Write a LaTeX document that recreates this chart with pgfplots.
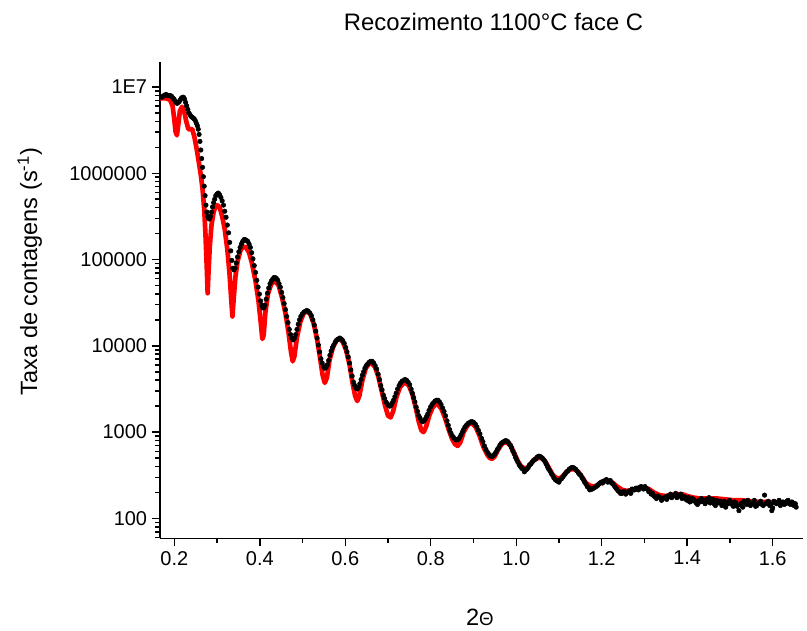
\documentclass[border=0pt]{standalone}
\usepackage{fontspec}
\setmainfont{Liberation Sans}
\usepackage{pgfplots}
\pgfplotsset{compat=1.18}
\begin{document}
\begin{tikzpicture}
\begin{axis}[
  scale only axis, width=483pt, height=357.75pt,
  xmin=0.166, xmax=1.671, ymin=58.7, ymax=1.95e7, ymode=log,
  axis lines=left, axis line style={-, line width=1.3pt},
  tick align=outside, major tick length=6pt, minor tick length=3.5pt,
  every tick/.style={black, line width=1.1pt},
  xtick={0.2,0.4,0.6,0.8,1.0,1.2,1.4,1.6},
  minor xtick={0.3,0.5,0.7,0.9,1.1,1.3,1.5},
  xticklabel={\pgfmathprintnumber[fixed,fixed zerofill,precision=1,assume math mode=true]{\tick}},
  ytick={100,1000,10000,100000,1000000,10000000},
  yticklabels={100,1000,10000,100000,1000000,1E7},
  minor ytick={60,70,80,90,200,300,400,500,600,700,800,900,2000,3000,4000,5000,6000,7000,8000,9000,20000,30000,40000,50000,60000,70000,80000,90000,200000,300000,400000,500000,600000,700000,800000,900000,2000000,3000000,4000000,5000000,6000000,7000000,8000000,9000000},
  tick label style={font=\fontsize{15}{18}\selectfont},
  title={Recozimento 1100°C face C},
  title style={at={(0.519,1)}, anchor=center, yshift=24pt, font=\fontsize{17.9}{21}\selectfont},
  ylabel={Taxa de contagens (s\textsuperscript{-1})},
  ylabel style={at={(axis description cs:-0.2022,0.56)}, anchor=center, font=\fontsize{17.7}{21}\selectfont},
  xlabel={2{\fontsize{14}{17}\selectfont Θ}},
  xlabel style={at={(axis description cs:0.4977,0)}, anchor=center, yshift=-59pt, font=\fontsize{17.7}{21}\selectfont},
]
\coordinate (BBsw) at (rel axis cs:-0.2484,-0.1929);
\coordinate (BBne) at (rel axis cs:1.0062,1.1300);
\addplot[only marks, mark=*, mark size=1.7pt, black] coordinates {
(0.170,7.59e6) (0.176,7.94e6) (0.182,8.13e6) (0.188,7.94e6) (0.194,7.76e6) (0.199,7.24e6)
(0.204,6.61e6) (0.209,6.61e6) (0.214,7.08e6) (0.219,7.59e6) (0.224,7.24e6) (0.229,6.03e6)
(0.234,5.01e6) (0.239,4.57e6) (0.244,4.37e6) (0.249,4.07e6) (0.254,3.55e6) (0.258,2.82e6)
(0.262,1.86e6) (0.266,1.17e6) (0.270,7.08e5) (0.274,4.27e5) (0.278,3.16e5) (0.282,2.95e5)
(0.287,3.55e5) (0.292,4.57e5) (0.297,5.50e5) (0.303,5.89e5) (0.309,5.25e5) (0.315,4.27e5)
(0.321,3.09e5) (0.327,2.04e5) (0.332,1.26e5) (0.337,7.94e4) (0.342,7.94e4) (0.348,1.07e5)
(0.354,1.38e5) (0.360,1.62e5) (0.366,1.70e5) (0.372,1.62e5) (0.378,1.38e5) (0.384,1.02e5)
(0.390,7.08e4) (0.396,4.79e4) (0.402,3.31e4) (0.407,2.75e4) (0.412,2.95e4) (0.418,4.07e4)
(0.424,5.25e4) (0.430,5.89e4) (0.436,6.17e4) (0.442,5.75e4) (0.448,4.79e4) (0.454,3.63e4)
(0.460,2.63e4) (0.466,1.86e4) (0.472,1.35e4) (0.478,1.17e4) (0.484,1.35e4) (0.490,1.78e4)
(0.496,2.19e4) (0.503,2.45e4) (0.510,2.57e4) (0.517,2.40e4) (0.524,2.00e4) (0.531,1.48e4)
(0.537,1.02e4) (0.543,7.08e3) (0.549,5.75e3) (0.555,5.62e3) (0.561,6.76e3) (0.567,8.71e3)
(0.573,1.02e4) (0.580,1.17e4) (0.587,1.23e4) (0.594,1.15e4) (0.601,9.55e3) (0.607,7.41e3)
(0.613,5.25e3) (0.619,3.80e3) (0.625,3.24e3) (0.631,3.31e3) (0.637,4.07e3) (0.643,5.01e3)
(0.649,5.89e3) (0.656,6.46e3) (0.663,6.61e3) (0.670,5.89e3) (0.677,4.68e3) (0.683,3.47e3)
(0.689,2.69e3) (0.695,2.24e3) (0.701,2.04e3) (0.707,2.04e3) (0.713,2.34e3) (0.719,2.82e3)
(0.726,3.47e3) (0.733,3.89e3) (0.740,4.07e3) (0.747,3.80e3) (0.754,3.16e3) (0.760,2.51e3)
(0.766,1.95e3) (0.772,1.55e3) (0.778,1.35e3) (0.784,1.35e3) (0.790,1.51e3) (0.796,1.78e3)
(0.803,2.09e3) (0.810,2.29e3) (0.817,2.34e3) (0.824,2.09e3) (0.831,1.74e3) (0.838,1.35e3)
(0.844,1070) (0.850,912) (0.856,832) (0.862,813) (0.868,871) (0.874,1000) (0.880,1148)
(0.887,1259) (0.894,1318) (0.901,1288) (0.908,1148) (0.915,955) (0.922,776) (0.929,631)
(0.935,562) (0.941,525) (0.947,537) (0.953,589) (0.959,661) (0.965,741) (0.971,776)
(0.977,794) (0.983,741) (0.989,661) (0.995,562) (1.001,479) (1.007,417) (1.013,380)
(1.019,347) (1.025,372) (1.031,417) (1.037,447) (1.043,479) (1.049,513) (1.055,525)
(1.061,501) (1.067,457) (1.073,398) (1.079,355) (1.085,316) (1.091,282) (1.097,269)
(1.103,282) (1.109,302) (1.115,331) (1.121,355) (1.127,380) (1.133,389) (1.139,372)
(1.145,339) (1.151,316) (1.157,282) (1.163,251) (1.169,229) (1.175,219) (1.181,224)
(1.187,234) (1.193,251) (1.199,263) (1.205,269) (1.211,282) (1.217,269) (1.223,257)
(1.229,240) (1.235,219) (1.241,204) (1.247,195) (1.253,204) (1.259,200) (1.265,209)
(1.271,219) (1.277,214) (1.283,224) (1.289,229) (1.295,224) (1.301,234) (1.307,219)
(1.313,204) (1.319,195) (1.325,178) (1.331,182) (1.337,174) (1.343,170) (1.349,178)
(1.355,182) (1.361,191) (1.367,182) (1.373,195) (1.379,186) (1.385,191) (1.391,178)
(1.397,166) (1.403,174) (1.409,158) (1.415,166) (1.421,151) (1.427,162) (1.433,170)
(1.439,155) (1.445,166) (1.451,174) (1.457,158) (1.463,148) (1.469,162) (1.475,155)
(1.481,141) (1.487,158) (1.493,151) (1.499,162) (1.505,145) (1.511,155) (1.517,138)
(1.521,123) (1.527,151) (1.533,158) (1.539,145) (1.545,155) (1.551,148) (1.557,162)
(1.563,141) (1.569,151) (1.575,145) (1.581,186) (1.587,155) (1.593,141) (1.598,123)
(1.603,158) (1.609,148) (1.615,162) (1.621,151) (1.627,145) (1.633,158) (1.639,148)
(1.645,155) (1.650,141) (1.655,135)
};
\addplot[only marks, mark=*, mark size=1.7pt, black] coordinates {
(0.173,7.76e6) (0.179,8.13e6) (0.185,7.94e6) (0.191,7.94e6) (0.197,7.41e6) (0.2015,6.92e6)
(0.2065,6.46e6) (0.2115,6.76e6) (0.2165,7.41e6) (0.2215,7.59e6) (0.2265,6.61e6) (0.2315,5.50e6)
(0.2365,4.79e6) (0.2415,4.47e6) (0.2465,4.27e6) (0.2515,3.80e6) (0.256,3.24e6) (0.260,2.34e6)
(0.264,1.48e6) (0.268,9.12e5) (0.272,5.50e5) (0.276,3.55e5) (0.280,3.02e5) (0.2845,3.16e5)
(0.2895,4.07e5) (0.2945,5.01e5) (0.300,5.75e5) (0.306,5.62e5) (0.312,4.79e5) (0.318,3.63e5)
(0.324,2.51e5) (0.3295,1.58e5) (0.3345,9.77e4) (0.3395,7.59e4) (0.345,9.12e4) (0.351,1.23e5)
(0.357,1.51e5) (0.363,1.70e5) (0.369,1.66e5) (0.375,1.51e5) (0.381,1.20e5) (0.387,8.51e4)
(0.393,5.75e4) (0.399,3.98e4) (0.4045,2.95e4) (0.4095,2.75e4) (0.415,3.47e4) (0.421,4.68e4)
(0.427,5.62e4) (0.433,6.17e4) (0.439,6.03e4) (0.445,5.25e4) (0.451,4.17e4) (0.457,3.09e4)
(0.463,2.19e4) (0.469,1.55e4) (0.475,1.23e4) (0.481,1.23e4) (0.487,1.55e4) (0.493,2.00e4)
(0.4995,2.34e4) (0.5065,2.51e4) (0.5135,2.51e4) (0.5205,2.24e4) (0.5275,1.74e4) (0.534,1.23e4)
(0.540,8.51e3) (0.546,6.31e3) (0.552,5.50e3) (0.558,6.03e3) (0.564,7.76e3) (0.570,9.55e3)
(0.5765,1.10e4) (0.5835,1.20e4) (0.5905,1.20e4) (0.5975,1.07e4) (0.604,8.51e3) (0.610,6.31e3)
(0.616,4.47e3) (0.622,3.47e3) (0.628,3.16e3) (0.634,3.63e3) (0.640,4.57e3) (0.646,5.50e3)
(0.6525,6.17e3) (0.6595,6.61e3) (0.6665,6.31e3) (0.6735,5.37e3) (0.680,4.07e3) (0.686,3.09e3)
(0.692,2.45e3) (0.698,2.14e3) (0.704,2.00e3) (0.710,2.19e3) (0.716,2.57e3) (0.7225,3.16e3)
(0.7295,3.72e3) (0.7365,3.98e3) (0.7435,3.98e3) (0.7505,3.55e3) (0.757,2.82e3) (0.763,2.24e3)
(0.769,1.74e3) (0.775,1.45e3) (0.781,1.32e3) (0.787,1.41e3) (0.793,1.62e3) (0.7995,1.95e3)
(0.8065,2.19e3) (0.8135,2.34e3) (0.8205,2.24e3) (0.8275,1.91e3) (0.8345,1.55e3) (0.841,1.20e3)
(0.847,977) (0.853,871) (0.859,813) (0.865,832) (0.871,933) (0.877,1072) (0.8835,1202)
(0.8905,1288) (0.8975,1318) (0.9045,1230) (0.9115,1047) (0.9185,851) (0.9255,692) (0.932,589)
(0.938,537) (0.944,525) (0.950,562) (0.956,631) (0.962,708) (0.968,759) (0.974,794)
(0.980,776) (0.986,708) (0.992,603) (0.998,513) (1.004,447) (1.010,398) (1.016,372)
(1.022,363) (1.028,389) (1.034,427) (1.040,468) (1.046,490) (1.052,525) (1.058,513)
(1.064,479) (1.070,427) (1.076,372) (1.082,331) (1.088,295) (1.094,275) (1.100,263)
(1.106,288) (1.112,316) (1.118,347) (1.124,372) (1.130,389) (1.136,380) (1.142,355)
(1.148,324) (1.154,295) (1.160,263) (1.166,234) (1.172,214) (1.178,219) (1.184,229)
(1.190,240) (1.196,257) (1.202,257) (1.208,275) (1.214,263) (1.220,275) (1.226,251)
(1.232,229) (1.238,209) (1.244,195) (1.250,204) (1.256,191) (1.262,204) (1.268,195)
(1.274,214) (1.280,224) (1.286,214) (1.292,234) (1.298,219) (1.304,224) (1.310,204)
(1.316,191) (1.322,182) (1.328,170) (1.334,178) (1.340,162) (1.346,174) (1.352,166)
(1.358,178) (1.364,174) (1.370,186) (1.376,174) (1.382,182) (1.388,170) (1.394,178)
(1.400,162) (1.406,155) (1.412,170) (1.418,158) (1.424,145) (1.430,155) (1.436,162)
(1.442,148) (1.448,158) (1.454,151) (1.460,166) (1.466,141) (1.472,151) (1.478,158)
(1.484,148) (1.490,135) (1.496,148) (1.502,155) (1.508,138) (1.514,151) (1.524,145)
(1.530,135) (1.536,151) (1.542,162) (1.548,141) (1.554,151) (1.560,138) (1.566,148)
(1.572,158) (1.578,141) (1.584,148) (1.590,158) (1.596,145) (1.600,132) (1.606,151)
(1.612,155) (1.618,141) (1.624,155) (1.630,148) (1.636,162) (1.642,145) (1.648,151)
(1.653,148)
};
\addplot[red, line width=3.5pt, line join=round] coordinates {
(0.167,7.41e6) (0.180,7.41e6) (0.190,7.08e6) (0.196,6.03e6) (0.200,4.17e6) (0.203,3.02e6)
(0.206,2.75e6) (0.209,3.55e6) (0.213,5.25e6) (0.218,5.89e6) (0.223,5.25e6) (0.228,3.98e6)
(0.233,3.24e6) (0.238,3.24e6) (0.242,3.24e6) (0.247,2.63e6) (0.252,1.95e6) (0.257,1.38e6)
(0.262,9.55e5) (0.266,6.61e5) (0.270,3.80e5) (0.273,1.91e5) (0.276,7.94e4) (0.278,4.07e4)
(0.280,7.08e4) (0.283,1.41e5) (0.287,2.51e5) (0.292,3.55e5) (0.297,4.17e5) (0.302,4.27e5)
(0.307,3.89e5) (0.312,3.16e5) (0.318,2.24e5) (0.324,1.32e5) (0.329,7.08e4) (0.333,3.55e4)
(0.336,2.19e4) (0.339,3.55e4) (0.343,6.31e4) (0.348,9.55e4) (0.355,1.29e5) (0.362,1.41e5)
(0.368,1.38e5) (0.375,1.20e5) (0.382,8.91e4) (0.390,5.62e4) (0.397,3.31e4) (0.402,1.91e4)
(0.406,1.20e4) (0.409,1.32e4) (0.413,2.40e4) (0.419,3.98e4) (0.427,5.25e4) (0.436,5.62e4)
(0.444,5.01e4) (0.452,3.63e4) (0.460,2.40e4) (0.467,1.45e4) (0.473,8.51e3) (0.477,6.61e3)
(0.481,7.59e3) (0.487,1.26e4) (0.495,1.91e4) (0.503,2.40e4) (0.510,2.51e4) (0.518,2.34e4)
(0.526,1.82e4) (0.534,1.20e4) (0.541,7.24e3) (0.547,4.57e3) (0.552,3.72e3) (0.557,4.27e3)
(0.563,6.76e3) (0.571,9.55e3) (0.579,1.15e4) (0.586,1.20e4) (0.594,1.12e4) (0.602,8.91e3)
(0.610,6.03e3) (0.617,3.72e3) (0.623,2.63e3) (0.628,2.29e3) (0.633,2.63e3) (0.640,3.98e3)
(0.648,5.50e3) (0.655,6.17e3) (0.661,6.31e3) (0.669,5.75e3) (0.677,4.47e3) (0.685,3.02e3)
(0.693,2.04e3) (0.700,1.55e3) (0.706,1.48e3) (0.712,1.74e3) (0.720,2.57e3) (0.728,3.31e3)
(0.735,3.63e3) (0.741,3.72e3) (0.749,3.47e3) (0.757,2.75e3) (0.765,1.91e3) (0.772,1.32e3)
(0.778,1.05e3) (0.783,1.00e3) (0.789,1.15e3) (0.797,1.58e3) (0.805,1.95e3) (0.811,2.09e3)
(0.817,2.09e3) (0.825,1.86e3) (0.833,1.48e3) (0.842,1.07e3) (0.850,832) (0.857,724)
(0.863,692) (0.869,759) (0.877,1000) (0.885,1175) (0.891,1259) (0.897,1259) (0.905,1148)
(0.914,912) (0.923,676) (0.932,550) (0.938,501) (0.944,490) (0.950,525) (0.958,631)
(0.966,724) (0.972,759) (0.978,759) (0.986,708) (0.995,575) (1.004,457) (1.012,398)
(1.020,380) (1.027,389) (1.035,437) (1.044,490) (1.052,501) (1.060,501) (1.068,457)
(1.077,380) (1.086,316) (1.094,295) (1.101,288) (1.109,309) (1.118,347) (1.127,372)
(1.136,372) (1.145,347) (1.154,302) (1.163,257) (1.172,240) (1.182,234) (1.192,245)
(1.202,269) (1.213,275) (1.224,263) (1.236,234) (1.248,214) (1.258,209) (1.268,209)
(1.280,219) (1.290,229) (1.299,229) (1.310,219) (1.322,200) (1.335,186) (1.349,182)
(1.362,186) (1.375,191) (1.388,191) (1.400,182) (1.415,174) (1.430,170) (1.450,170)
(1.470,170) (1.490,166) (1.510,162) (1.530,162) (1.550,158) (1.570,155) (1.590,155)
(1.610,153) (1.631,151)
};
\end{axis}
\pgfresetboundingbox
\path (BBsw) rectangle (BBne);
\end{tikzpicture}
\end{document}
